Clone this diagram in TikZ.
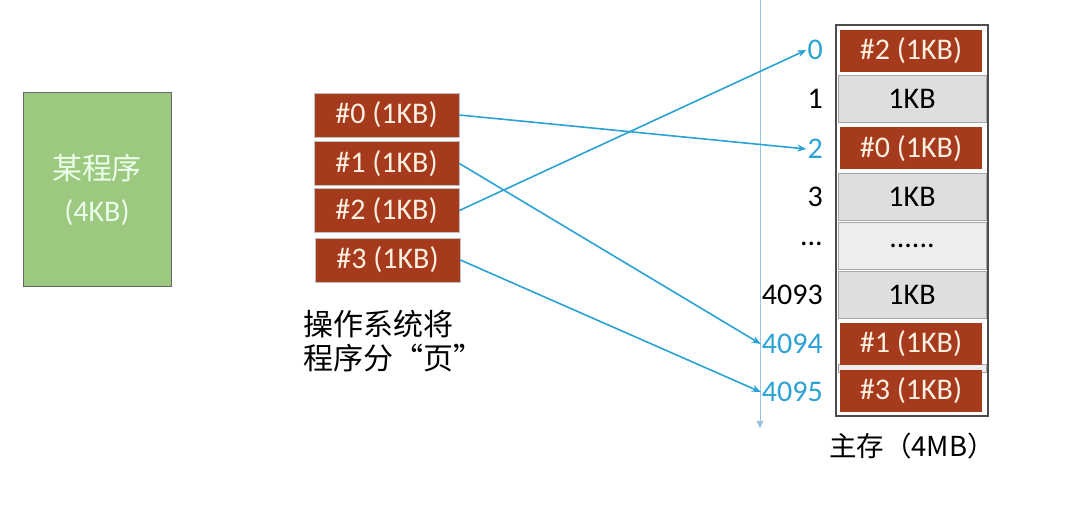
\documentclass[tikz,border=0pt]{standalone}
\usepackage{fontspec}
\setmainfont{Carlito}
\newfontfamily\cjk{Noto Sans CJK SC}
\usetikzlibrary{arrows.meta}
\definecolor{pagered}{HTML}{A63A1C}
\definecolor{progreen}{HTML}{9CC880}
\definecolor{linkblue}{HTML}{2AA2D4}
\definecolor{axisblue}{HTML}{9CC4E2}
\definecolor{rowgrey}{HTML}{DEDEDE}
\definecolor{rowlight}{HTML}{EEEEEE}
\definecolor{pagetext}{HTML}{FBEFE0}
\tikzset{
  page/.style={draw=gray!50, line width=0.8pt, fill=pagered, text=pagetext, minimum width=145pt, minimum height=44pt, inner sep=0pt, font=\fontsize{30}{32}\selectfont},
  mempage/.style={fill=pagered, text=pagetext, minimum width=142pt, minimum height=42pt, inner sep=0pt, font=\fontsize{30}{32}\selectfont},
  memrow/.style={draw=gray!70, line width=0.6pt, fill=rowgrey, minimum width=148pt, minimum height=47pt, inner sep=0pt, font=\fontsize{30}{32}\selectfont},
  addr/.style={anchor=east, inner sep=1pt, font=\fontsize{30}{32}\selectfont},
  addrb/.style={addr, text=linkblue},
  link/.style={draw=linkblue, line width=1.6pt, -{Stealth[length=9pt,width=7pt]}},
}
\begin{document}
\begin{tikzpicture}[x=1pt,y=-1pt]
\useasboundingbox (0,0) rectangle (1082,510);
% program
\node[draw=gray!80!black, line width=1pt, fill=progreen, minimum width=148pt, minimum height=194pt, inner sep=0pt, text=white!92!green, align=center, font=\fontsize{30}{42}\selectfont] (prog) at (97,190) {{\cjk 某程序}\\(4KB)};
% pages
\node[page] (p0) at (386.5,115) {\#0 (1KB)};
\node[page] (p1) at (386.5,163.5) {\#1 (1KB)};
\node[page] (p2) at (386.5,210.5) {\#2 (1KB)};
\node[page] (p3) at (387.5,260) {\#3 (1KB)};
\node[anchor=north west, align=left, inner sep=0pt, font=\cjk\fontsize{30}{34}\selectfont] (ostext) at (303,310) {操作系统将\\程序分“页”};
% axis
\coordinate (axtop) at (760,0);
\coordinate (axbot) at (760,428);
\draw[axisblue, line width=1pt, -{Triangle[length=7pt,width=7pt]}] (axtop) -- (axbot);
% memory
\node[draw=gray!60!black, line width=1.5pt, minimum width=152pt, minimum height=391pt, inner sep=0pt] (mem) at (912,220.5) {};
\node[memrow, fill=rowgrey] (r1) at (912,99) {1KB};
\node[memrow, fill=rowgrey] (r3) at (912,197) {1KB};
\node[memrow, fill=rowlight] (r4) at (912,246) {......};
\node[memrow, fill=rowgrey] (r5) at (912,295) {1KB};
\node[memrow, fill=rowlight, minimum height=8pt] (gap) at (912,368) {};
\node[mempage] (m0) at (911,51) {\#2 (1KB)};
\node[mempage] (m2) at (911,148.5) {\#0 (1KB)};
\node[mempage] (m6) at (911,344) {\#1 (1KB)};
\node[mempage] (m7) at (911,391) {\#3 (1KB)};
% addresses
\node[addrb] (a0) at (824,50) {0};
\node[addr] (a1) at (824,99) {1};
\node[addrb] (a2) at (824,149) {2};
\node[addr] (a3) at (824,197) {3};
\node[addr] (a4) at (824,244) {...};
\node[addr] (a5) at (824,295) {4093};
\node[addrb] (a6) at (824,344) {4094};
\node[addrb] (a7) at (824,392) {4095};
% links
\draw[link] (p0.east) -- (a2.west);
\draw[link] (p1.east) -- (a6.west);
\draw[link] (p2.east) -- (a0.west);
\draw[link] (p3.east) -- (a7.west);
% caption
\node[font=\cjk\fontsize{27.5}{30}\selectfont] (cap) at (912,446) {主存（4MB）};
\end{tikzpicture}
\end{document}
